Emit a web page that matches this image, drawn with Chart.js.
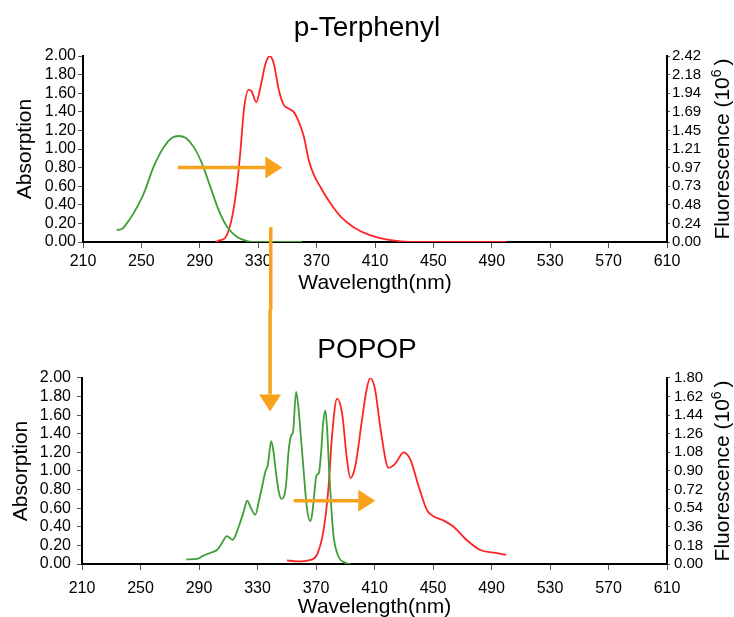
<!DOCTYPE html>
<html>
<head>
<meta charset="utf-8">
<script src="https://cdn.jsdelivr.net/npm/chart.js@4.4.0/dist/chart.umd.min.js"></script>
<style>
  html, body { margin: 0; padding: 0; background: #fff; overflow: hidden; }
  #wrapTop { position: absolute; left: 0; top: 0; width: 734px; height: 310px; }
  #wrapBottom { position: absolute; left: 0; top: 310px; width: 734px; height: 320px; }
</style>
</head>
<body>
<div id="wrapTop"><canvas id="chartTop"></canvas></div>
<div id="wrapBottom"><canvas id="chartBottom"></canvas></div>
<script>
// p-Terphenyl absorption (left axis)
var tpAbsWl = [233, 236.7, 240, 244.7, 251.6, 258.4, 265.3, 271, 275.5, 280.2, 285.9, 291.6, 297.3, 303, 308.8, 315.6, 322.5, 330, 340, 360];
var tpAbs   = [0.13, 0.14, 0.2, 0.31, 0.52, 0.81, 1.02, 1.12, 1.14, 1.12, 1.02, 0.84, 0.59, 0.34, 0.16, 0.054, 0.01, 0, 0, 0];
// p-Terphenyl fluorescence (right axis, 10^6)
var tpFlWl = [300.7, 304, 307.6, 312.2, 315.6, 317.9, 320.2, 323.4, 325.5, 328.7, 331.6, 335, 338, 340.7, 344.2, 347.6, 350.5, 354.4, 357.9, 361.3, 364.7, 368.2, 372.8, 379.6, 386.5, 395.6, 407.1, 418.5, 429.9, 440, 500];
var tpFl   = [0, 0.024, 0.06, 0.33, 0.76, 1.2, 1.72, 1.98, 1.96, 1.82, 2.02, 2.32, 2.42, 2.32, 1.97, 1.78, 1.74, 1.69, 1.56, 1.37, 1.06, 0.87, 0.71, 0.5, 0.33, 0.19, 0.085, 0.031, 0.006, 0, 0];

// POPOP absorption (left axis)
var ppAbsWl = [281.3, 288.6, 293.1, 297.7, 302.3, 305.5, 309, 313, 317.1, 320.5, 323, 325.5, 328.5, 331, 333, 335.5, 337, 339.4, 341, 342.5, 344.5, 346.3, 348, 349.5, 351.3, 353, 354.3, 356.4, 358, 359.5, 361.5, 363.8, 366.1, 367.5, 368.8, 370.3, 372, 373.5, 374.8, 376.4, 377.6, 379, 380.5, 382, 384, 386, 389, 393.5];
var ppAbs   = [0.05, 0.055, 0.09, 0.12, 0.15, 0.22, 0.3, 0.26, 0.4, 0.56, 0.68, 0.6, 0.53, 0.68, 0.82, 1.0, 1.06, 1.32, 1.2, 1.0, 0.78, 0.7, 0.72, 0.85, 1.22, 1.38, 1.42, 1.85, 1.68, 1.4, 1.01, 0.6, 0.46, 0.55, 0.75, 0.95, 0.98, 1.2, 1.5, 1.65, 1.45, 1.0, 0.6, 0.3, 0.14, 0.06, 0.02, 0];
// POPOP fluorescence (right axis, 10^6)
var ppFlWl = [350.2, 357, 366.1, 370.7, 375.2, 378.6, 380.9, 384.4, 387.8, 391.2, 393.5, 396.9, 401.5, 404.5, 407.1, 410.5, 414, 419.6, 424.2, 429.9, 434.5, 440.2, 445.9, 450.5, 457.3, 464.1, 473.2, 482.4, 491.4, 500.1];
var ppFl   = [0.036, 0.025, 0.04, 0.09, 0.33, 0.75, 1.23, 1.6, 1.46, 1.01, 0.83, 0.95, 1.4, 1.68, 1.8, 1.68, 1.32, 0.93, 0.97, 1.08, 1.01, 0.75, 0.52, 0.46, 0.42, 0.36, 0.23, 0.135, 0.11, 0.09];

// arrows in (wavelength, absorption)
var tpArrow = [275, 0.80, 346.5, 0.80];
var shiftArrowTop = [338.6, 0.16];
var shiftArrowBottom = [338.6, 1.64];
var ppArrow = [354.7, 0.68, 410.5, 0.68];

var FONT = '"Liberation Sans", Arial, Helvetica, sans-serif';
var GREEN = '#3f9e36';
var RED = '#ff2424';
var ORANGE = '#f7a21c';

function pts(xs, ys) {
  return xs.map(function (x, i) { return { x: x, y: ys[i] }; });
}

function drawArrow(ctx, x1, y1, x2, y2, head) {
  var ang = Math.atan2(y2 - y1, x2 - x1);
  var headLen = 17, headW = 11;
  var bx = head ? x2 - headLen * Math.cos(ang) : x2;
  var by = head ? y2 - headLen * Math.sin(ang) : y2;
  ctx.beginPath();
  ctx.moveTo(x1, y1);
  ctx.lineTo(bx, by);
  ctx.stroke();
  if (head) {
    ctx.beginPath();
    ctx.moveTo(x2, y2);
    ctx.lineTo(bx + headW * Math.sin(ang), by - headW * Math.cos(ang));
    ctx.lineTo(bx - headW * Math.sin(ang), by + headW * Math.cos(ang));
    ctx.closePath();
    ctx.fill();
  }
}

var rightTitle = {
  id: 'rightTitle',
  afterDraw: function (chart) {
    var ctx = chart.ctx, a = chart.chartArea;
    ctx.save();
    ctx.translate(chart.width - 11, (a.top + a.bottom) / 2);
    ctx.rotate(-Math.PI / 2);
    ctx.fillStyle = '#000';
    ctx.textBaseline = 'middle';
    ctx.textAlign = 'left';
    var big = '21px ' + FONT, small = '14px ' + FONT;
    ctx.font = big;
    var w1 = ctx.measureText('Fluorescence (10').width;
    var w3 = ctx.measureText(')').width;
    ctx.font = small;
    var w2 = ctx.measureText('6 ').width;
    var x = -(w1 + w2 + w3) / 2;
    ctx.font = big;
    ctx.fillText('Fluorescence (10', x, 0);
    ctx.font = small;
    ctx.fillText('6', x + w1, -6);
    ctx.font = big;
    ctx.fillText(')', x + w1 + w2, 0);
    ctx.restore();
  }
};

function arrowPlugin(which) {
  return {
    id: 'arrows' + which,
    afterDraw: function (chart) {
      var ctx = chart.ctx, sx = chart.scales.x, sy = chart.scales.yA;
      ctx.save();
      ctx.strokeStyle = ORANGE;
      ctx.fillStyle = ORANGE;
      ctx.lineWidth = 3.5;
      if (which === 'top') {
        drawArrow(ctx, sx.getPixelForValue(tpArrow[0]), sy.getPixelForValue(tpArrow[1]),
          sx.getPixelForValue(tpArrow[2]), sy.getPixelForValue(tpArrow[3]), true);
        var vx = sx.getPixelForValue(shiftArrowTop[0]);
        drawArrow(ctx, vx, sy.getPixelForValue(shiftArrowTop[1]), vx, chart.height, false);
      } else {
        var vx2 = sx.getPixelForValue(shiftArrowBottom[0]);
        drawArrow(ctx, vx2, 0, vx2, sy.getPixelForValue(shiftArrowBottom[1]), true);
        drawArrow(ctx, sx.getPixelForValue(ppArrow[0]), sy.getPixelForValue(ppArrow[1]),
          sx.getPixelForValue(ppArrow[2]), sy.getPixelForValue(ppArrow[3]), true);
      }
      ctx.restore();
    }
  };
}

function makeChart(id, title, titlePad, absWl, abs, flWl, fl, flMax, dims, which) {
  var tickFont = { family: FONT, size: 16, lineHeight: 1.2 };
  var rTickFont = { family: FONT, size: 15, lineHeight: 1.2 };
  return new Chart(document.getElementById(id), {
    type: 'line',
    data: {
      datasets: [{
        label: 'Absorption',
        data: pts(absWl, abs),
        yAxisID: 'yA',
        borderColor: GREEN,
        borderWidth: 1.8,
        pointRadius: 0,
        cubicInterpolationMode: 'monotone'
      }, {
        label: 'Fluorescence',
        data: pts(flWl, fl),
        yAxisID: 'yF',
        borderColor: RED,
        borderWidth: 1.8,
        pointRadius: 0,
        cubicInterpolationMode: 'monotone'
      }]
    },
    plugins: [rightTitle, arrowPlugin(which)],
    options: {
      responsive: true,
      maintainAspectRatio: false,
      animation: false,
      layout: { padding: 0 },
      plugins: {
        legend: { display: false },
        tooltip: { enabled: false },
        title: {
          display: true,
          text: title,
          color: '#000',
          font: { family: FONT, size: 28, weight: 'normal' },
          padding: titlePad
        }
      },
      scales: {
        x: {
          type: 'linear',
          min: 210,
          max: 610,
          ticks: { stepSize: 40, color: '#000', font: tickFont, padding: dims.xTickPad, maxRotation: 0 },
          grid: { drawOnChartArea: false, tickLength: 6, color: '#555' },
          border: { color: '#000', width: 2 },
          title: {
            display: true,
            text: 'Wavelength(nm)',
            color: '#000',
            font: { family: FONT, size: 21 },
            padding: { top: 0, bottom: dims.xTitlePad }
          },
          afterFit: function (s) { s.height = dims.xHeight; }
        },
        yA: {
          position: 'left',
          min: 0,
          max: 2,
          ticks: { count: 11, autoSkip: false, color: '#000', font: tickFont, padding: dims.yTickPad,
            callback: function (v) { return v.toFixed(2); } },
          grid: { drawOnChartArea: false, tickLength: 5, color: '#555' },
          border: { color: '#000', width: 2 },
          title: {
            display: true,
            text: 'Absorption',
            color: '#000',
            font: { family: FONT, size: 21 },
            padding: { top: dims.yTitlePad, bottom: 0 }
          },
          afterFit: function (s) { s.width = dims.leftWidth; }
        },
        yF: {
          position: 'right',
          min: 0,
          max: flMax,
          ticks: { count: 11, autoSkip: false, color: '#000', font: rTickFont, padding: dims.rTickPad,
            callback: function (v) { return v.toFixed(2); } },
          grid: { drawOnChartArea: false, tickLength: 3, color: '#555' },
          border: { color: '#000', width: 2 },
          afterFit: function (s) { s.width = 67; }
        }
      }
    }
  });
}

makeChart('chartTop', 'p-Terphenyl', { top: 11, bottom: 11.4 },
  tpAbsWl, tpAbs, tpFlWl, tpFl, 2.42,
  { xHeight: 68, xTitlePad: 14, xTickPad: 4, yTickPad: 2, rTickPad: 2, yTitlePad: 13, leftWidth: 83 }, 'top');

makeChart('chartBottom', 'POPOP', { top: 23, bottom: 11.3 },
  ppAbsWl, ppAbs, ppFlWl, ppFl, 1.80,
  { xHeight: 66, xTitlePad: 10, xTickPad: 9, yTickPad: 6, rTickPad: 4, yTitlePad: 8.5, leftWidth: 82 }, 'bottom');
</script>
</body>
</html>
